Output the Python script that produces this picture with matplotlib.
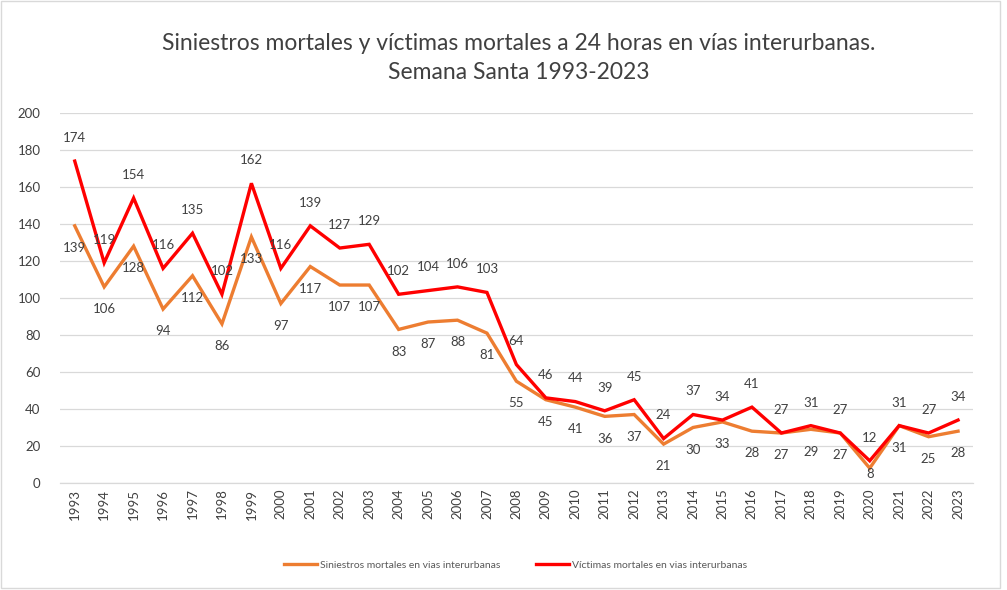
import matplotlib.pyplot as plt
from matplotlib.patches import Rectangle

plt.rcParams['font.family'] = ['Lato', 'DejaVu Sans']

years = [str(y) for y in range(1993, 2024)]
siniestros = [139, 106, 128, 94, 112, 86, 133, 97, 117, 107, 107, 83, 87, 88, 81,
              55, 45, 41, 36, 37, 21, 30, 33, 28, 27, 29, 27, 8, 31, 25, 28]
victimas = [174, 119, 154, 116, 135, 102, 162, 116, 139, 127, 129, 102, 104, 106, 103,
            64, 46, 44, 39, 45, 24, 37, 34, 41, 27, 31, 27, 12, 31, 27, 34]

orange = '#ED7D31'
red = '#FF0000'
txt = '#404040'

fig = plt.figure(figsize=(10.07, 5.90), dpi=100)
ax = fig.add_axes([0.0596, 0.1814, 0.9064, 0.6271])

x = list(range(len(years)))
l1, = ax.plot(x, siniestros, color=orange, lw=2.4, solid_joinstyle='miter',
              label='Siniestros mortales en vias interurbanas', zorder=3)
l2, = ax.plot(x, victimas, color=red, lw=2.4, solid_joinstyle='miter',
              label='Víctimas mortales en vias interurbanas', zorder=4)

# labels: orange below, red above; keep them inside the plot area like Excel does
for i in x:
    ax.text(i, max(siniestros[i] - 12, 5), str(siniestros[i]), ha='center', va='center',
            fontsize=9.5, color=txt, zorder=5)
    ax.text(i, victimas[i] + 12.5, str(victimas[i]), ha='center', va='center',
            fontsize=9.5, color=txt, zorder=5)

ax.set_xlim(-0.5, len(years) - 0.5)
ax.set_ylim(0, 200)
ax.set_yticks(range(0, 201, 20))
ax.set_xticks(x)
ax.set_xticklabels(years, rotation=90)
ax.tick_params(axis='y', length=0, labelsize=9.5, labelcolor=txt, pad=14)
ax.tick_params(axis='x', length=0, labelsize=9.5, labelcolor=txt, pad=4)
ax.grid(axis='y', color='#D9D9D9', lw=0.9)
ax.set_axisbelow(True)
for s in ['top', 'right', 'left']:
    ax.spines[s].set_visible(False)
ax.spines['bottom'].set_color('#D9D9D9')
ax.spines['bottom'].set_linewidth(0.9)

fig.text(0.515, 0.927, 'Siniestros mortales y víctimas mortales a 24 horas en vías interurbanas.',
         ha='center', va='center', fontsize=16.5, color=txt)
fig.text(0.515, 0.877, 'Semana Santa 1993-2023', ha='center', va='center',
         fontsize=16.5, color=txt)

fig.legend(handles=[l1, l2], loc='center', bbox_to_anchor=(0.512, 0.042), ncol=2,
           frameon=False, fontsize=7.5, labelcolor='#595959', handlelength=3.2,
           handletextpad=0.3, columnspacing=3.4)

fig.patches.append(Rectangle((0.001, 0.004), 0.992, 0.994, transform=fig.transFigure,
                             fill=False, edgecolor='#D9D9D9', lw=1))

fig.savefig('out.png', dpi=100)
